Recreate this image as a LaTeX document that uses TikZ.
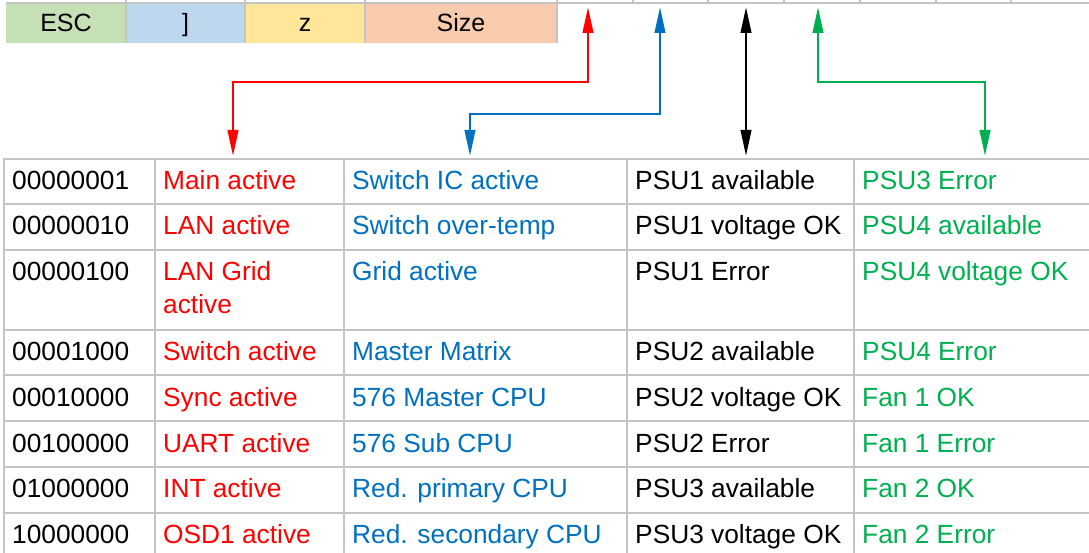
\documentclass[tikz,border=0pt]{standalone}
\usepackage{fontspec}
\setmainfont{Liberation Sans}
\usetikzlibrary{arrows.meta}
\definecolor{cred}{HTML}{FF0000}
\definecolor{cblue}{HTML}{0070C0}
\definecolor{cgreen}{HTML}{00B050}
\definecolor{gridgray}{HTML}{C4C4C4}
\definecolor{fgreen}{HTML}{C5E0B4}
\definecolor{fblue}{HTML}{BDD7EE}
\definecolor{fyellow}{HTML}{FFE699}
\definecolor{fpeach}{HTML}{F8CBAD}
\begin{document}
\begin{tikzpicture}[x=1pt,y=-1pt,
  topcell/.style={inner sep=0pt, minimum height=39pt, text height=18pt, text depth=2pt, font=\fontsize{25}{30}\selectfont},
  gridline/.style={draw=gridgray, line width=2pt},
  txt/.style={anchor=base west, inner sep=0pt, font=\fontsize{26.3}{33}\selectfont},
  c1/.style={txt, text=black},
  c2/.style={txt, text=cred},
  c3/.style={txt, text=cblue},
  c4/.style={txt, text=black},
  c5/.style={txt, text=cgreen},
  sig/.style={line width=2.5pt, line join=miter, {Triangle[length=26pt,width=10.5pt]}-{Triangle[length=26pt,width=10.5pt]}}]
\useasboundingbox (0,0) rectangle (1089,553);
\fill[white] (0,0) rectangle (1089,553);

% top strip
\node[topcell, fill=fgreen, minimum width=120pt] (esc) at (66,23.5) {ESC};
\node[topcell, fill=fblue, minimum width=119pt] (brk) at (185.5,23.5) {]};
\node[topcell, fill=fyellow, minimum width=120pt] (zz) at (305,23.5) {z};
\node[topcell, fill=fpeach, minimum width=192pt] (size) at (461,23.5) {Size};
\draw[gridline] (6,3) -- (1089,3);
\foreach \x in {126,245,365,557} \draw[gridline] (\x,0) -- (\x,43);
\foreach \x in {633,708,784,860,936,1011} \draw[gridline] (\x,0) -- (\x,3);

% table grid
\foreach \y in {159,204,250,330,375,421,467,513} \draw[gridline] (4,\y) -- (1089,\y);
\foreach \x in {4,155,344,627,854} \draw[gridline] (\x,158) -- (\x,553);

% table text
\node[c1] (a1) at (12,189.5) {00000001};
\node[c2] (b1) at (163,189.5) {Main active};
\node[c3] (d1) at (352,189.5) {Switch IC active};
\node[c4] (e1) at (635,189.5) {PSU1 available};
\node[c5] (f1) at (862,189.5) {PSU3 Error};

\node[c1] (a2) at (12,235) {00000010};
\node[c2] (b2) at (163,235) {LAN active};
\node[c3] (d2) at (352,235) {Switch over-temp};
\node[c4] (e2) at (635,235) {PSU1 voltage OK};
\node[c5] (f2) at (862,235) {PSU4 available};

\node[c1] (a3) at (12,280.5) {00000100};
\node[c2] (b3) at (163,280.5) {LAN Grid};
\node[c2] (b3b) at (163,313.5) {active};
\node[c3] (d3) at (352,280.5) {Grid active};
\node[c4] (e3) at (635,280.5) {PSU1 Error};
\node[c5] (f3) at (862,280.5) {PSU4 voltage OK};

\node[c1] (a4) at (12,360.5) {00001000};
\node[c2] (b4) at (163,360.5) {Switch active};
\node[c3] (d4) at (352,360.5) {Master Matrix};
\node[c4] (e4) at (635,360.5) {PSU2 available};
\node[c5] (f4) at (862,360.5) {PSU4 Error};

\node[c1] (a5) at (12,406) {00010000};
\node[c2] (b5) at (163,406) {Sync active};
\node[c3] (d5) at (352,406) {576 Master CPU};
\node[c4] (e5) at (635,406) {PSU2 voltage OK};
\node[c5] (f5) at (862,406) {Fan 1 OK};

\node[c1] (a6) at (12,452) {00100000};
\node[c2] (b6) at (163,452) {UART active};
\node[c3] (d6) at (352,452) {576 Sub CPU};
\node[c4] (e6) at (635,452) {PSU2 Error};
\node[c5] (f6) at (862,452) {Fan 1 Error};

\node[c1] (a7) at (12,497.5) {01000000};
\node[c2] (b7) at (163,497.5) {INT active};
\node[c3] (d7) at (352,497.5) {Red. primary CPU};
\node[c4] (e7) at (635,497.5) {PSU3 available};
\node[c5] (f7) at (862,497.5) {Fan 2 OK};

\node[c1] (a8) at (12,543.5) {10000000};
\node[c2] (b8) at (163,543.5) {OSD1 active};
\node[c3] (d8) at (352,543.5) {Red. secondary CPU};
\node[c4] (e8) at (635,543.5) {PSU3 voltage OK};
\node[c5] (f8) at (862,543.5) {Fan 2 Error};

% connector end points
\coordinate (rs) at (588,7);  \coordinate (rk) at (233,82);  \coordinate (re) at (233,156);
\coordinate (bs) at (660,7);  \coordinate (bk) at (470,114); \coordinate (be) at (470,156);
\coordinate (ks) at (746,7);  \coordinate (ke) at (746,156);
\coordinate (gs) at (818,7);  \coordinate (gk) at (985,82);  \coordinate (ge) at (985,156);

\draw[sig, color=cred] (rs) |- (rk) -- (re);
\draw[sig, color=cblue] (bs) |- (bk) -- (be);
\draw[sig, color=black] (ks) -- (ke);
\draw[sig, color=cgreen] (gs) |- (gk) -- (ge);
\end{tikzpicture}
\end{document}
